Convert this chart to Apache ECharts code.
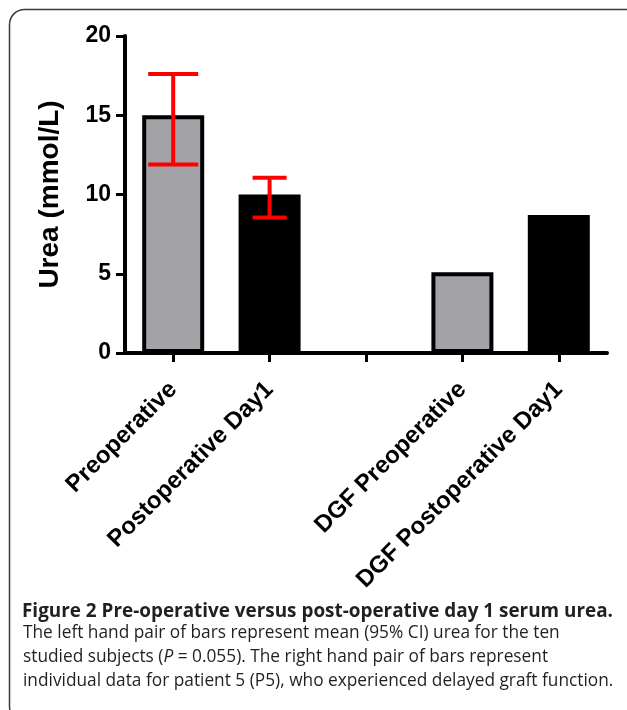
<!DOCTYPE html>
<html>
<head>
<meta charset="utf-8">
<script src="https://cdn.jsdelivr.net/npm/echarts@6/dist/echarts.min.js"></script>
<style>
html,body{margin:0;padding:0;background:#fff;}
#chart{width:627px;height:710px;}
</style>
</head>
<body>
<div id="chart"></div>
<script>
// ---- data ----
const categories = ['Preoperative', 'Postoperative Day1', '', 'DGF Preoperative', 'DGF Postoperative Day1'];
const ureaValues = [15.0, 10.0, null, 5.1, 8.7];
const ciLow = [11.9, 8.55, null, null, null];
const ciHigh = [17.6, 11.05, null, null, null];
const yTicks = [0, 5, 10, 15, 20];
const yAxisTitle = 'Urea (mmol/L)';
const captionTitle = 'Figure 2 Pre-operative versus post-operative day 1 serum urea.';
const captionLines = [
  'The left hand pair of bars represent mean (95% CI) urea for the ten',
  'studied subjects ({i|P} = 0.055). The right hand pair of bars represent',
  'individual data for patient 5 (P5), who experienced delayed graft function.'
];

// ---- styles ----
const FILL = ['#a3a2a7', '#000000', '#ffffff', '#a3a2a7', '#000000'];
const CAP_HALF = [25, 17, 0, 0, 0];
const AX_FONT = 'Liberation Sans, Arial, sans-serif';
const CAP_FONT = '"Open Sans", "Noto Sans", sans-serif';
const CAP_SIZE = 17.3;

const chart = echarts.init(document.getElementById('chart'), null, {renderer: 'canvas'});

const errData = [];
categories.forEach((c, i) => {
  if (ciLow[i] != null && ciHigh[i] != null) errData.push([i, ciLow[i], ciHigh[i]]);
});

const captionGraphics = [
  {
    type: 'text', left: 22, top: 602, silent: true,
    style: {text: captionTitle, font: 'bold 18.9px ' + CAP_FONT, fill: '#231f20'}
  }
];
captionLines.forEach((t, k) => {
  captionGraphics.push({
    type: 'text', left: 23, top: 625 + k * 23.9, silent: true,
    style: {
      text: t, font: CAP_SIZE + 'px ' + CAP_FONT, fill: '#231f20',
      rich: {i: {fontStyle: 'italic', fontSize: CAP_SIZE, fontFamily: CAP_FONT, fill: '#231f20'}}
    }
  });
});

const option = {
  backgroundColor: '#ffffff',
  animation: false,
  grid: {left: 125, right: 20, top: 36, bottom: 357, containLabel: false},
  xAxis: {
    type: 'category',
    data: categories,
    axisLine: {lineStyle: {color: '#000', width: 4}},
    axisTick: {show: true, alignWithLabel: true, length: 9, lineStyle: {color: '#000', width: 3}},
    axisLabel: {
      rotate: 45, interval: 0, margin: 33,
      fontFamily: AX_FONT, fontWeight: 'bold', fontSize: 24, color: '#000'
    },
    splitLine: {show: false}
  },
  yAxis: {
    type: 'value',
    min: yTicks[0], max: yTicks[yTicks.length - 1], interval: yTicks[1] - yTicks[0],
    name: yAxisTitle,
    nameLocation: 'middle',
    nameGap: 61,
    nameRotate: 90,
    nameTextStyle: {fontFamily: AX_FONT, fontWeight: 'bold', fontSize: 28, color: '#000'},
    axisLine: {show: true, lineStyle: {color: '#000', width: 4}},
    axisTick: {show: true, length: 9, lineStyle: {color: '#000', width: 3}},
    axisLabel: {margin: 14, fontFamily: AX_FONT, fontWeight: 'bold', fontSize: 23, color: '#000'},
    splitLine: {show: false}
  },
  series: [
    {
      type: 'bar',
      data: ureaValues.map(v => v == null ? '-' : v),
      barWidth: 62,
      itemStyle: {
        color: p => FILL[p.dataIndex],
        borderColor: '#000',
        borderWidth: 4
      },
      z: 2
    },
    {
      type: 'custom',
      data: errData,
      z: 5,
      renderItem: function (params, api) {
        const idx = api.value(0);
        const lo = api.coord([idx, api.value(1)]);
        const hi = api.coord([idx, api.value(2)]);
        const hw = CAP_HALF[idx];
        const st = {stroke: '#ff0000', lineWidth: 4};
        return {
          type: 'group',
          children: [
            {type: 'line', shape: {x1: hi[0], y1: hi[1], x2: lo[0], y2: lo[1]}, style: st},
            {type: 'line', shape: {x1: hi[0] - hw, y1: hi[1], x2: hi[0] + hw, y2: hi[1]}, style: st},
            {type: 'line', shape: {x1: lo[0] - hw, y1: lo[1], x2: lo[0] + hw, y2: lo[1]}, style: st}
          ]
        };
      }
    }
  ],
  graphic: [
    {
      type: 'rect', silent: true, z: -1,
      shape: {x: 9.5, y: 9.5, width: 640, height: 712, r: 15},
      style: {fill: 'none', stroke: '#3a3a3a', lineWidth: 1.5}
    }
  ].concat(captionGraphics)
};

chart.setOption(option);
</script>
</body>
</html>
